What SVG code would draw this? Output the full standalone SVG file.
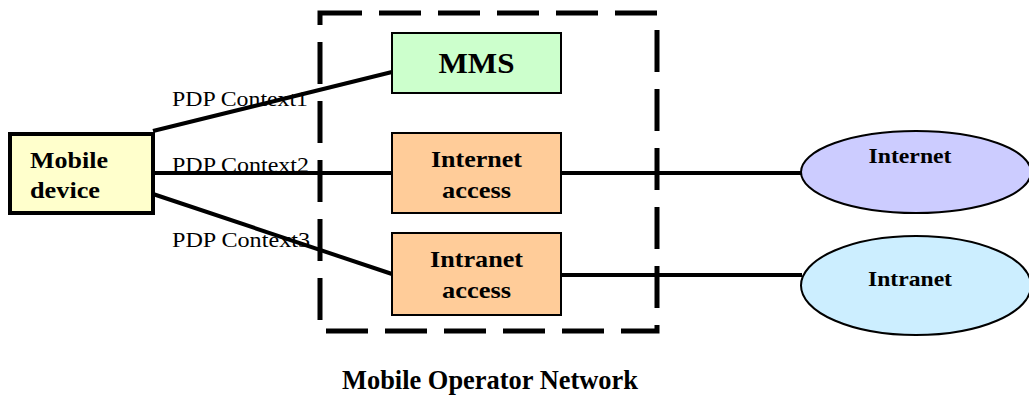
<svg xmlns="http://www.w3.org/2000/svg" width="1029" height="395" viewBox="0 0 1029 395">
  <style>
    .box { stroke: #000; stroke-width: 2; }
    .link { stroke: #000; stroke-width: 4; fill: none; }
    .boundary { fill: none; stroke: #000; stroke-width: 5; stroke-dasharray: 42 17; }
    .lbl { font-family: "Liberation Serif", "Times New Roman", serif; fill: #000; }
    .b { font-weight: bold; }
  </style>
  <rect width="1029" height="395" fill="#fff"/>

  <!-- operator network boundary -->
  <g id="operator-network">
    <rect class="boundary" x="320" y="13" width="337" height="318"/>
    <text class="lbl b" x="490" y="389" font-size="27" text-anchor="middle" textLength="296" lengthAdjust="spacingAndGlyphs">Mobile Operator Network</text>
  </g>

  <!-- connectors -->
  <g id="connectors">
    <line class="link" x1="153" y1="131" x2="392" y2="72"/>
    <line class="link" x1="153" y1="173" x2="392" y2="173"/>
    <line class="link" x1="153" y1="194" x2="392" y2="274"/>
    <line class="link" x1="561" y1="173" x2="801" y2="173"/>
    <line class="link" x1="561" y1="275" x2="802" y2="275"/>
  </g>

  <!-- context labels -->
  <g id="context-labels">
    <text class="lbl" x="172" y="106" font-size="22" textLength="136" lengthAdjust="spacingAndGlyphs">PDP Context1</text>
    <text class="lbl" x="172" y="172" font-size="22" textLength="137" lengthAdjust="spacingAndGlyphs">PDP Context2</text>
    <text class="lbl" x="172" y="247" font-size="22" textLength="138" lengthAdjust="spacingAndGlyphs">PDP Context3</text>
  </g>

  <g id="mobile-device">
    <rect x="10" y="134" width="143" height="79" fill="#ffffcc" stroke="#000" stroke-width="4"/>
    <text class="lbl b" x="30" y="168" font-size="24" textLength="78" lengthAdjust="spacingAndGlyphs">Mobile</text>
    <text class="lbl b" x="30" y="198" font-size="24" textLength="70" lengthAdjust="spacingAndGlyphs">device</text>
  </g>

  <g id="mms">
    <rect class="box" x="392" y="33" width="169" height="60" fill="#ccffcc"/>
    <text class="lbl b" x="476.5" y="73" font-size="30" text-anchor="middle" textLength="76" lengthAdjust="spacingAndGlyphs">MMS</text>
  </g>

  <g id="internet-access">
    <rect class="box" x="392" y="133" width="169" height="80" fill="#ffcc99"/>
    <text class="lbl b" x="476.5" y="167" font-size="24" text-anchor="middle" textLength="91" lengthAdjust="spacingAndGlyphs">Internet</text>
    <text class="lbl b" x="476.5" y="198" font-size="24" text-anchor="middle" textLength="69" lengthAdjust="spacingAndGlyphs">access</text>
  </g>

  <g id="intranet-access">
    <rect class="box" x="392" y="233" width="169" height="82" fill="#ffcc99"/>
    <text class="lbl b" x="476.5" y="267" font-size="24" text-anchor="middle" textLength="93" lengthAdjust="spacingAndGlyphs">Intranet</text>
    <text class="lbl b" x="476.5" y="298" font-size="24" text-anchor="middle" textLength="69" lengthAdjust="spacingAndGlyphs">access</text>
  </g>

  <g id="internet">
    <ellipse class="box" cx="916" cy="172" rx="115" ry="41" fill="#ccccff"/>
    <text class="lbl b" x="910" y="163" font-size="21" text-anchor="middle" textLength="83" lengthAdjust="spacingAndGlyphs">Internet</text>
  </g>

  <g id="intranet">
    <ellipse class="box" cx="916" cy="285.5" rx="115" ry="49.5" fill="#cceeff"/>
    <text class="lbl b" x="910" y="286" font-size="21" text-anchor="middle" textLength="84" lengthAdjust="spacingAndGlyphs">Intranet</text>
  </g>
</svg>
